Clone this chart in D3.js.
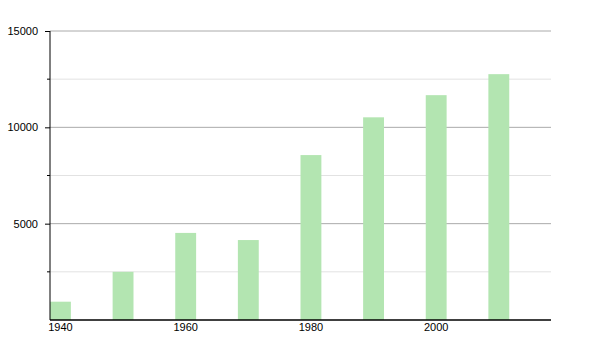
<!DOCTYPE html>
<html>
<head>
<meta charset="utf-8">
<script src="https://cdn.jsdelivr.net/npm/d3@7"></script>
<style>
  body { margin: 0; background: #fff; }
  text { font-family: "Liberation Sans", Arial, sans-serif; font-size: 11px; fill: #000; }
</style>
</head>
<body>
<div id="chart"></div>
<script>
// population by census year
var years = [1940, 1950, 1960, 1970, 1980, 1990, 2000, 2010];
var values = [950, 2500, 4520, 4150, 8560, 10520, 11670, 12760];
var xLabels = [1940, 1960, 1980, 2000];
var majorTicks = [5000, 10000, 15000];
var minorTicks = [2500, 7500, 12500];

var width = 600, height = 350;
var margin = {top: 31, right: 49, bottom: 30, left: 50};
var w = width - margin.left - margin.right;
var h = height - margin.top - margin.bottom;

var svg = d3.select("#chart").append("svg")
    .attr("width", width)
    .attr("height", height)
    .append("g")
    .attr("transform", "translate(" + margin.left + "," + margin.top + ")");

var x = d3.scaleBand().domain(years).range([0, w]);
var y = d3.scaleLinear().domain([0, 15000]).range([h, 0]);
var barW = x.bandwidth() / 3;

// grid
svg.selectAll(".minor").data(minorTicks).enter().append("line")
    .attr("x1", 0).attr("x2", w)
    .attr("y1", function (d) { return y(d); })
    .attr("y2", function (d) { return y(d); })
    .attr("stroke", "#e2e2e2");
svg.selectAll(".minortick").data(minorTicks).enter().append("line")
    .attr("x1", -3).attr("x2", 0)
    .attr("y1", function (d) { return y(d); })
    .attr("y2", function (d) { return y(d); })
    .attr("stroke", "#000");
svg.selectAll(".major").data(majorTicks).enter().append("line")
    .attr("x1", 0).attr("x2", w)
    .attr("y1", function (d) { return y(d); })
    .attr("y2", function (d) { return y(d); })
    .attr("stroke", "#aaa");

// bars
svg.selectAll(".bar").data(values).enter().append("rect")
    .attr("x", function (d, i) { return x(years[i]); })
    .attr("y", function (d) { return y(d); })
    .attr("width", barW)
    .attr("height", function (d) { return h - y(d); })
    .attr("fill", "#b3e5b1");

// y axis
var yAxis = d3.axisLeft(y).tickValues(majorTicks).tickFormat(d3.format("d")).tickSize(5).tickSizeOuter(0);
var gy = svg.append("g").call(yAxis);
gy.select(".domain").attr("stroke", "#000").attr("d", "M0," + h + "V0");
gy.selectAll(".tick line").attr("stroke", "#000");
gy.selectAll(".tick text").attr("x", -12).style("font-family", "Liberation Sans, Arial, sans-serif").style("font-size", "11px");

// x axis
var gx = svg.append("g").attr("transform", "translate(0," + h + ")");
gx.append("line").attr("x1", 0).attr("x2", w).attr("stroke", "#000").attr("stroke-width", 1.3);
gx.selectAll("text").data(xLabels).enter().append("text")
    .attr("x", function (d) { return x(d) + barW / 2; })
    .attr("y", 11)
    .attr("text-anchor", "middle")
    .text(function (d) { return d; });
</script>
</body>
</html>
